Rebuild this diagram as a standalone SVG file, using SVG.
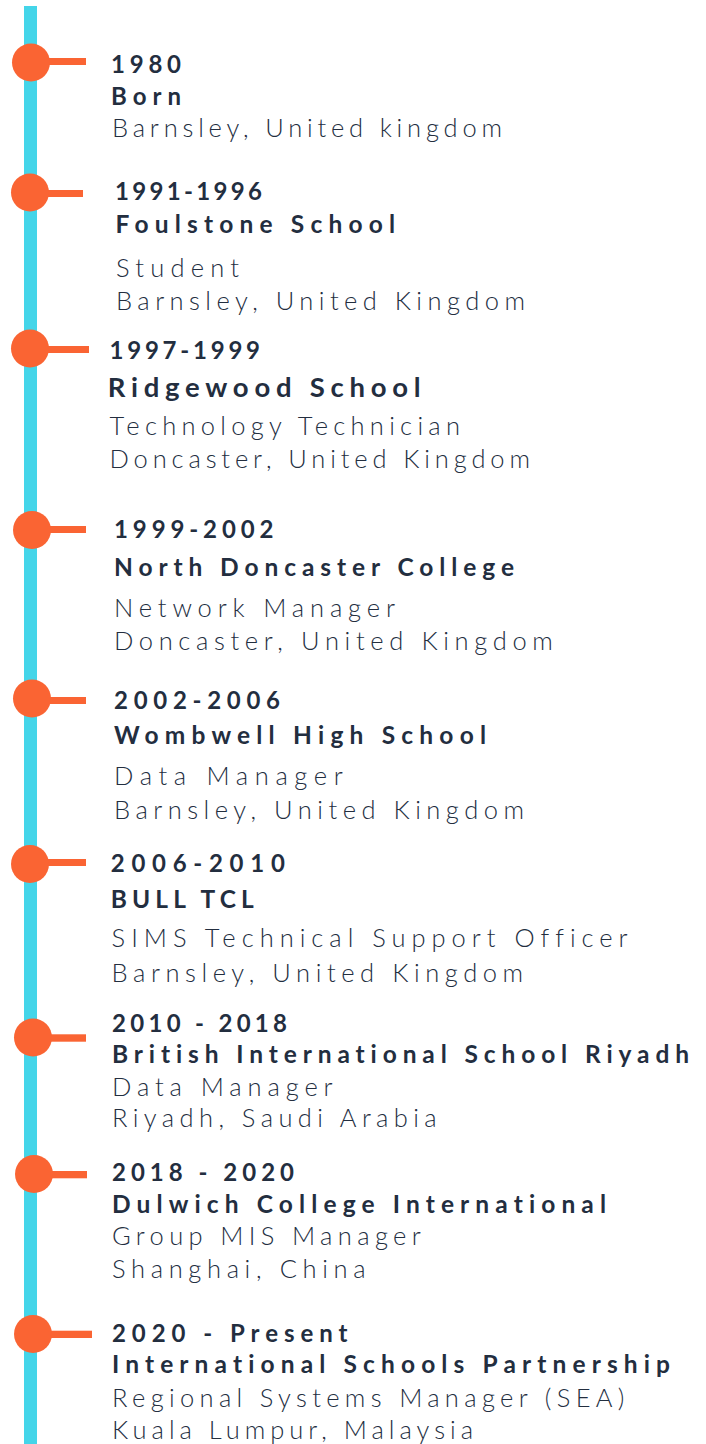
<svg xmlns="http://www.w3.org/2000/svg" width="706" height="1444" viewBox="0 0 706 1444">
  <style>
    .spine { fill: #44d5e9; }
    .dot { fill: #fa6433; }
    .stub { fill: #fa6433; }
    text { fill: #232e3f; font-family: "Lato", "Liberation Sans", sans-serif; font-variant-ligatures: none; }
    .yr { font-weight: 700; font-size: 24px; }
    .org { font-weight: 700; font-size: 24.5px; }
    .org-lg { font-weight: 700; font-size: 27.5px; }
    .txt { font-weight: 300; font-size: 25.5px; }
  </style>
  <rect width="706" height="1444" fill="#ffffff"/>

  <!-- timeline spine -->
  <g id="connectors">
    <rect class="spine" x="24" y="6" width="13" height="1438"/>
  </g>

  <g id="e1980">
    <rect class="stub" x="31" y="58" width="55" height="7"/>
    <circle class="dot" cx="31" cy="62.5" r="19"/>
    <text class="yr" x="111" y="72.5" textLength="70" lengthAdjust="spacing">1980</text>
    <text class="yr" x="111" y="105" textLength="70" lengthAdjust="spacing">Born</text>
    <text class="txt" x="112" y="136.7" textLength="390" lengthAdjust="spacing">Barnsley, United kingdom</text>
  </g>

  <g id="e1991">
    <rect class="stub" x="30" y="190" width="53" height="7"/>
    <circle class="dot" cx="30" cy="192.5" r="19"/>
    <text class="yr" x="115" y="200" textLength="147" lengthAdjust="spacing">1991-1996</text>
    <text class="org" x="115.5" y="232.7" textLength="279.5" lengthAdjust="spacing">Foulstone School</text>
    <text class="txt" x="116" y="276.7" textLength="123" lengthAdjust="spacing">Student</text>
    <text class="txt" x="116" y="310" textLength="409" lengthAdjust="spacing">Barnsley, United Kingdom</text>
  </g>

  <g id="e1997">
    <rect class="stub" x="30" y="346" width="59" height="7"/>
    <circle class="dot" cx="30" cy="348.5" r="19"/>
    <text class="yr" x="109.5" y="359.3" textLength="150.5" lengthAdjust="spacing">1997-1999</text>
    <text class="org-lg" x="107.7" y="397.3" textLength="313" lengthAdjust="spacing">Ridgewood School</text>
    <text class="txt" x="109.5" y="435" textLength="350.5" lengthAdjust="spacing">Technology Technician</text>
    <text class="txt" x="109.5" y="467.7" textLength="420.5" lengthAdjust="spacing">Doncaster, United Kingdom</text>
  </g>

  <g id="e1999">
    <rect class="stub" x="32" y="526" width="54" height="7"/>
    <circle class="dot" cx="32" cy="530" r="19"/>
    <text class="yr" x="114" y="537.7" textLength="159.5" lengthAdjust="spacing">1999-2002</text>
    <text class="org" x="114" y="576" textLength="400" lengthAdjust="spacing">North Doncaster College</text>
    <text class="txt" x="114" y="616.7" textLength="281" lengthAdjust="spacing">Network Manager</text>
    <text class="txt" x="114" y="650" textLength="438.8" lengthAdjust="spacing">Doncaster, United Kingdom</text>
  </g>

  <g id="e2002">
    <rect class="stub" x="32" y="697" width="54" height="7"/>
    <circle class="dot" cx="32" cy="698.5" r="19"/>
    <text class="yr" x="114" y="709.3" textLength="166" lengthAdjust="spacing">2002-2006</text>
    <text class="org" x="114" y="744" textLength="372" lengthAdjust="spacing">Wombwell High School</text>
    <text class="txt" x="114" y="785" textLength="228.8" lengthAdjust="spacing">Data Manager</text>
    <text class="txt" x="114" y="819" textLength="410" lengthAdjust="spacing">Barnsley, United Kingdom</text>
  </g>

  <g id="e2006">
    <rect class="stub" x="30" y="859" width="56" height="7"/>
    <circle class="dot" cx="30" cy="864" r="19"/>
    <text class="yr" x="110.8" y="871.7" textLength="174" lengthAdjust="spacing">2006-2010</text>
    <text class="org" x="110.8" y="908.3" textLength="143" lengthAdjust="spacing">BULL TCL</text>
    <text class="txt" x="111.6" y="946.7" textLength="516" lengthAdjust="spacing">SIMS Technical Support Officer</text>
    <text class="txt" x="111.6" y="981.7" textLength="411.5" lengthAdjust="spacing">Barnsley, United Kingdom</text>
  </g>

  <g id="e2010">
    <rect class="stub" x="33" y="1034.3" width="53" height="7.4"/>
    <circle class="dot" cx="33" cy="1037.5" r="19"/>
    <text class="yr" x="112" y="1031.7" textLength="175" lengthAdjust="spacing">2010 - 2018</text>
    <text class="org" x="112" y="1063.3" textLength="577" lengthAdjust="spacing">British International School Riyadh</text>
    <text class="txt" x="112" y="1095.7" textLength="220.6" lengthAdjust="spacing">Data Manager</text>
    <text class="txt" x="112" y="1126.7" textLength="324.7" lengthAdjust="spacing">Riyadh, Saudi Arabia</text>
  </g>

  <g id="e2018">
    <rect class="stub" x="34" y="1171" width="53" height="7.3"/>
    <circle class="dot" cx="34" cy="1174" r="19"/>
    <text class="yr" x="112" y="1180.7" textLength="182" lengthAdjust="spacing">2018 - 2020</text>
    <text class="org" x="112" y="1212.7" textLength="494" lengthAdjust="spacing">Dulwich College International</text>
    <text class="txt" x="112" y="1245" textLength="308.8" lengthAdjust="spacing">Group MIS Manager</text>
    <text class="txt" x="112" y="1277.7" textLength="253.6" lengthAdjust="spacing">Shanghai, China</text>
  </g>

  <g id="e2020">
    <rect class="stub" x="33" y="1330.7" width="59" height="7.3"/>
    <circle class="dot" cx="33" cy="1334" r="19"/>
    <text class="yr" x="112" y="1342.3" textLength="235.5" lengthAdjust="spacing">2020 - Present</text>
    <text class="org" x="112" y="1373.3" textLength="558" lengthAdjust="spacing">International Schools Partnership</text>
    <text class="txt" x="112" y="1406.7" textLength="512.4" lengthAdjust="spacing">Regional Systems Manager (SEA)</text>
    <text class="txt" x="112" y="1439.3" textLength="361" lengthAdjust="spacing">Kuala Lumpur, Malaysia</text>
  </g>
</svg>
